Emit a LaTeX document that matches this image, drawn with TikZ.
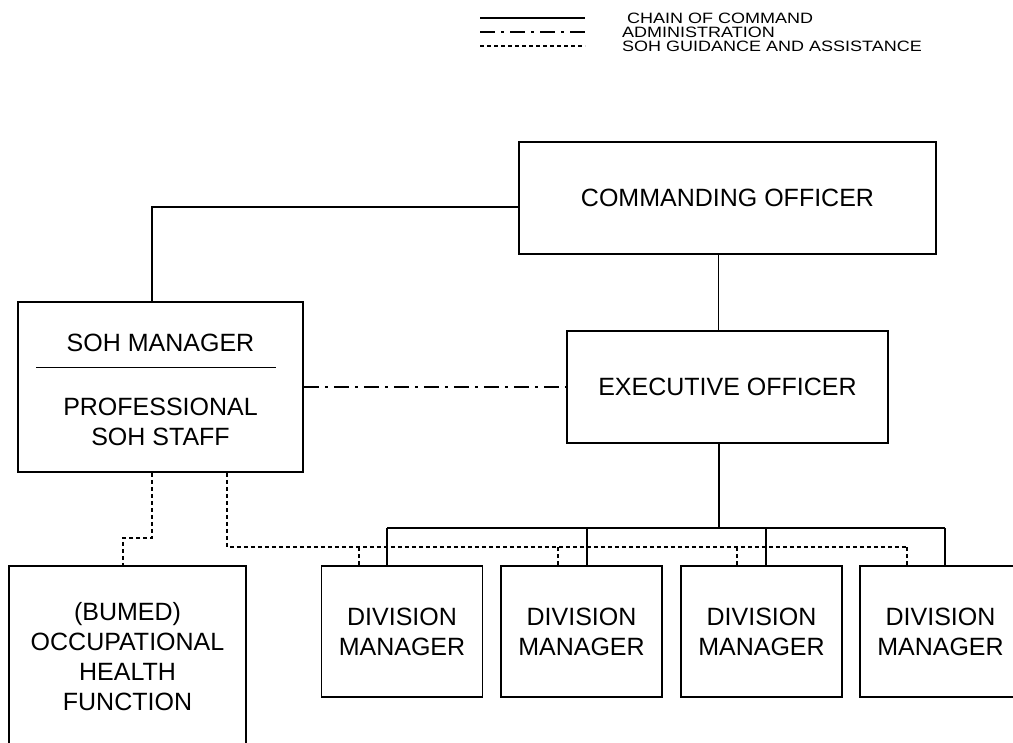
\documentclass[tikz,border=0pt]{standalone}
\usepackage{fontspec}
\setmainfont{Liberation Sans}
\newfontfamily\keyfont[FakeStretch=1.2]{Liberation Sans}
\usetikzlibrary{calc}
\tikzset{
  box/.style={draw,line width=1.6pt,inner sep=0pt,align=center,font=\fontsize{25}{30}\selectfont},
  lbl/.style={inner sep=0pt,align=center,font=\fontsize{25}{30}\selectfont},
  key/.style={inner sep=0pt,anchor=west,font=\keyfont\fontsize{15}{16}\selectfont},
  chain/.style={line width=1.3pt},
  admin/.style={line width=2.6pt,dash pattern=on 15pt off 6pt on 3pt off 6pt},
  guide/.style={line width=1.6pt,dash pattern=on 4pt off 3pt},
}
\begin{document}
\begin{tikzpicture}[x=1pt,y=-1pt]
\useasboundingbox (0,0) rectangle (1013,743);
% legend
\coordinate (k1) at (480,18);
\coordinate (k2) at (480,32);
\coordinate (k3) at (480,46);
\node[key] (kchain) at (627,18) {CHAIN OF COMMAND};
\node[key] (kadmin) at (622,32) {ADMINISTRATION};
\node[key] (kguide) at (622,46) {SOH GUIDANCE AND ASSISTANCE};
\draw[chain,line width=1.6pt] (k1) -- ++(105,0);
\draw[admin] (k2) -- ++(105,0);
\draw[guide,line width=1.1pt] (k3) -- ++(105,0);
% boxes
\node[box,minimum width=417pt,minimum height=112pt] (co) at (727.5,198) {COMMANDING OFFICER};
\node[box,minimum width=321pt,minimum height=112pt] (eo) at (727.5,387) {EXECUTIVE OFFICER};
\node[box,minimum width=285pt,minimum height=170pt] (soh) at (160.5,387) {};
\node[lbl] (sohmgr) at (160.5,343) {SOH MANAGER};
\node[lbl] (sohstaff) at (160.5,422) {PROFESSIONAL\\SOH STAFF};
\draw[chain] ($(soh.north west)+(19,66)$) -- ($(soh.north east)+(-28,66)$);
\node[box,minimum width=237pt,minimum height=182pt] (bumed) at (127.5,657) {(BUMED)\\OCCUPATIONAL\\HEALTH\\FUNCTION};
\foreach \n/\cx in {1/402,2/581.5,3/761.5,4/940.5}
  \node[box,minimum width=161pt,minimum height=131pt] (dm\n) at (\cx,631.5) {DIVISION\\MANAGER};
% guidance lines
\coordinate (jog) at (123,538);
\coordinate (gbus) at (907,547);
\draw[guide] ([xshift=-8.5pt]soh.south) |- (jog) -- (jog |- bumed.north);
\draw[guide] ([xshift=66.5pt]soh.south) |- (gbus);
% chain of command
\coordinate (busL) at (387,528);
\coordinate (busR) at (945,528);
\draw[chain] ([yshift=-9pt]co.west) -| ([xshift=-8.5pt]soh.north);
\draw[chain] ([xshift=-9pt]co.south) -- ([xshift=-9pt]eo.north);
\draw[chain] ([xshift=-8.5pt]eo.south) -- ([xshift=-8.5pt]eo.south |- busL);
\draw[chain] (busL) -- (busR);
\foreach \n/\sx/\gx in {1/-15/-43,2/5.5/-23.5,3/4.5/-24.5,4/4.5/-33.5}{
  \draw[guide] ([xshift=\gx pt]dm\n.north) -- ([xshift=\gx pt]dm\n.north |- gbus);
  \draw[chain] ([xshift=\sx pt]dm\n.north) -- ([xshift=\sx pt]dm\n.north |- busL);
}
% administration
\draw[admin] (soh.east) -- (eo.west);
\end{tikzpicture}
\end{document}
